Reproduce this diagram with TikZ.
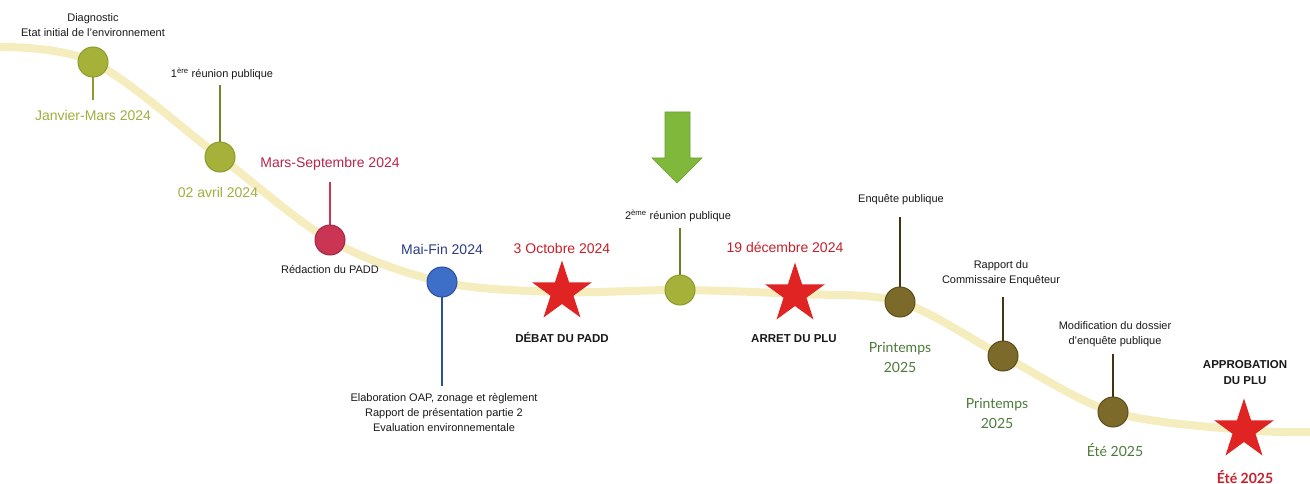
\documentclass[tikz,border=0pt]{standalone}
\usepackage{fontspec}
\setmainfont{Liberation Sans}
\newfontfamily\latofont{Lato}
\usetikzlibrary{shapes.geometric}
\definecolor{bandcol}{HTML}{F5EDBE}
\definecolor{olivefill}{HTML}{A6B13A}
\definecolor{oliveedge}{HTML}{8C9A2E}
\definecolor{olivetext}{HTML}{A3AE3C}
\definecolor{crimfill}{HTML}{C93553}
\definecolor{crimtext}{HTML}{B8264A}
\definecolor{bluefill}{HTML}{3D6FC9}
\definecolor{blueedge}{HTML}{2A4F9E}
\definecolor{bluetext}{HTML}{2B3C87}
\definecolor{starred}{HTML}{E02424}
\definecolor{redtext}{HTML}{C8202A}
\definecolor{brownfill}{HTML}{7C6A2B}
\definecolor{brownedge}{HTML}{5C4C18}
\definecolor{greentext}{HTML}{4D7A3C}
\definecolor{arrowgreen}{HTML}{7FB83A}
\definecolor{arrowedge}{HTML}{6A9E2E}
\begin{document}
\begin{tikzpicture}[x=1pt,y=-1pt,
  dot/.style={circle, minimum size=30pt, inner sep=0pt, line width=1pt},
  redstar/.style={star, star points=5, star point ratio=2.618, minimum size=63pt, inner sep=0pt, fill=starred, draw=none},
  lbl/.style={font=\fontsize{11}{15}\selectfont, align=center, inner sep=0pt, text=black!90},
  boldlbl/.style={font=\fontsize{11.5}{16}\selectfont\bfseries, align=center, inner sep=0pt, text=black!90},
  datelbl/.style={font=\fontsize{14}{16}\selectfont, inner sep=0pt},
  seasonlbl/.style={font=\latofont\fontsize{14}{20}\selectfont, align=center, inner sep=0pt, text=greentext},
  stem/.style={line width=1.1pt},
  band/.style={line width=8pt, draw=bandcol, line cap=round}]
\useasboundingbox (0,0) rectangle (1310,484);
\fill[white] (0,0) rectangle (1310,484);

% milestone positions
\coordinate (bstart) at (-6,47);
\coordinate (bend) at (1316,432);
\coordinate (p1) at (93,62);
\coordinate (p2) at (220,157);
\coordinate (p3) at (330,240);
\coordinate (p4) at (442,282);
\coordinate (p5) at (562,292);
\coordinate (p6) at (680,290);
\coordinate (p7) at (795,294);
\coordinate (p8) at (900,302);
\coordinate (p9) at (1003,356);
\coordinate (p10) at (1113,412);
\coordinate (p11) at (1244,430);

% band
\draw[band] plot[smooth, tension=0.55] coordinates {(bstart) (p1) (p2) (p3) (p4) (p5) (p6) (p7) (p8) (p9) (p10) (p11) (bend)};

% stem end points
\coordinate (s1) at (93,100);
\coordinate (s2) at (220,85);
\coordinate (s3) at (330,182);
\coordinate (s4) at (442,386);
\coordinate (s5) at (680,228);
\coordinate (s6) at (900,217);
\coordinate (s7) at (1003,297);
\coordinate (s8) at (1113,354);

% stems
\draw[stem, oliveedge] (p1) -- (s1);
\draw[stem, oliveedge!85!black] (p2) -- (s2);
\draw[stem, crimfill] (p3) -- (s3);
\draw[stem, blueedge] (p4) -- (s4);
\draw[stem, oliveedge!80!black] (p6) -- (s5);
\draw[stem, brownedge!70!black] (p8) -- (s6);
\draw[stem, brownedge!70!black] (p9) -- (s7);
\draw[stem, brownedge!70!black] (p10) -- (s8);

% milestone markers
\node[dot, fill=olivefill, draw=oliveedge] (c1) at (p1) {};
\node[dot, fill=olivefill, draw=oliveedge] (c2) at (p2) {};
\node[dot, fill=crimfill, draw=crimfill!80!black] (c3) at (p3) {};
\node[dot, fill=bluefill, draw=blueedge] (c4) at (p4) {};
\node[redstar] (st1) at (p5) {};
\node[dot, fill=olivefill, draw=oliveedge] (c5) at (p6) {};
\node[redstar] (st2) at (p7) {};
\node[dot, fill=brownfill, draw=brownedge] (c6) at (p8) {};
\node[dot, fill=brownfill, draw=brownedge] (c7) at (p9) {};
\node[dot, fill=brownfill, draw=brownedge] (c8) at (p10) {};
\node[redstar] (st3) at (p11) {};

% green arrow
\filldraw[fill=arrowgreen, draw=arrowedge, line width=0.6pt]
  (665,112) -- (690,112) -- (690,158) -- (702,158) -- (677,183) -- (652,158) -- (665,158) -- cycle;

% labels
\node[lbl] (t1) at (93,25) {Diagnostic\\Etat initial de l'environnement};
\node[datelbl, text=olivetext] (d1) at (93,115) {Janvier-Mars 2024};
\node[lbl] (t2) at (222,74) {1\textsuperscript{ère} réunion publique};
\node[datelbl, text=olivetext] (d2) at (218,192) {02 avril 2024};
\node[datelbl, text=crimtext] (d3) at (330,164) {Mars-Septembre 2024};
\node[lbl] (t3) at (330,270) {Rédaction du PADD};
\node[datelbl, text=bluetext] (d4) at (442,249) {Mai-Fin 2024};
\node[lbl] (t4) at (444,413) {Elaboration OAP, zonage et règlement\\Rapport de présentation partie 2\\Evaluation environnementale};
\node[datelbl, text=redtext] (d5) at (562,248) {3 Octobre 2024};
\node[boldlbl] (t5) at (562,337) {DÉBAT DU PADD};
\node[lbl] (t6) at (678,216) {2\textsuperscript{ème} réunion publique};
\node[datelbl, text=redtext] (d6) at (785,247) {19 décembre 2024};
\node[boldlbl] (t7) at (794,339) {ARRET DU PLU};
\node[lbl] (t8) at (901,200) {Enquête publique};
\node[seasonlbl] (d8) at (900,357) {Printemps\\2025};
\node[lbl] (t9) at (1001,273) {Rapport du\\Commissaire Enquêteur};
\node[seasonlbl] (d9) at (997,413) {Printemps\\2025};
\node[lbl] (t10) at (1115,334) {Modification du dossier\\d'enquête publique};
\node[seasonlbl] (d10) at (1115,450) {Été 2025};
\node[boldlbl] (t11) at (1245,373) {APPROBATION\\DU PLU};
\node[font=\latofont\fontsize{14}{16}\selectfont\bfseries, text=redtext, inner sep=0pt] (d11) at (1245,477) {Été 2025};
\end{tikzpicture}
\end{document}
